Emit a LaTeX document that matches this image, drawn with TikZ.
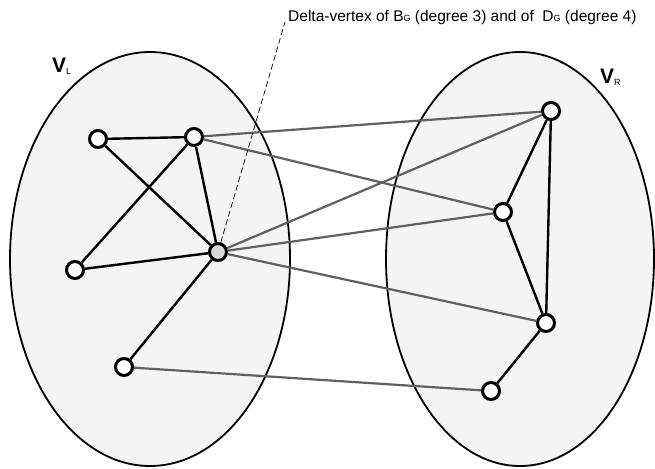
\documentclass[tikz,border=0pt]{standalone}
\usepackage{fontspec}
\setmainfont{Liberation Sans}
\usetikzlibrary{positioning}
\definecolor{setfill}{RGB}{244,244,244}
\definecolor{crossgray}{RGB}{96,96,96}
\definecolor{deltafill}{RGB}{218,218,218}

\begin{document}
\begin{tikzpicture}[
    x=1pt,y=-1pt,
    every node/.style={font=\fontsize{15.5}{17}\selectfont},
    part/.style={draw,line width=1.8pt,fill=setfill},
    vert/.style={circle,draw,line width=3pt,fill=white,inner sep=0pt,minimum size=17pt},
    delta/.style={vert,fill=deltafill},
    inner/.style={line width=2.4pt},
    cross/.style={line width=2.2pt,draw=crossgray},
    pointer/.style={line width=0.7pt,dash pattern=on 6pt off 3pt},
    setlabel/.style={anchor=base west,inner sep=0pt,font=\fontsize{21}{21}\selectfont\bfseries}
  ]
    \useasboundingbox (0,0) rectangle (655,468);
    % the two vertex sets
    \draw[part] (150,259) ellipse [x radius=140pt,y radius=207pt];
    \draw[part] (520,259) ellipse [x radius=134pt,y radius=207pt];
    \node[setlabel] (vl) at (52,73) {V\raisebox{-2pt}{\fontsize{9}{9}\selectfont\mdseries L}};
    \node[setlabel] (vr) at (600,84) {V\raisebox{-2pt}{\fontsize{9}{9}\selectfont\mdseries R}};

    % left part
    \node[vert] (a) at (98,139) {};
    \node[vert] (b) at (194,137) {};
    \node[delta] (c) at (218,252) {};
    \node[vert] (d) at (75,270) {};
    \node[vert] (e) at (124,367) {};
    % right part
    \node[vert] (f) at (551,111) {};
    \node[vert] (g) at (503,212) {};
    \node[vert] (h) at (546,323) {};
    \node[vert] (i) at (491,391) {};

    \draw[inner] (a)--(b);
    \draw[inner] (a)--(c);
    \draw[inner] (b)--(d);
    \draw[inner] (b)--(c);
    \draw[inner] (c)--(d);
    \draw[inner] (c)--(e);
    \draw[inner] (f)--(g);
    \draw[inner] (g)--(h);
    \draw[inner] (f)--(h);
    \draw[inner] (h)--(i);

    \draw[cross] (b)--(f);
    \draw[cross] (b)--(g);
    \draw[cross] (c)--(f);
    \draw[cross] (c)--(g);
    \draw[cross] (c)--(h);
    \draw[cross] (e)--(i);

    % annotation of the delta vertex
    \node[anchor=base west,inner sep=0pt] (note) at (288,22)
      {Delta-vertex of B{\fontsize{9}{9}\selectfont G} (degree 3) and of \ D{\fontsize{9}{9}\selectfont G} (degree 4)};
    \coordinate (tip) at (285,22);
    \draw[pointer] (c)--(tip);
  \end{tikzpicture}
\end{document}
